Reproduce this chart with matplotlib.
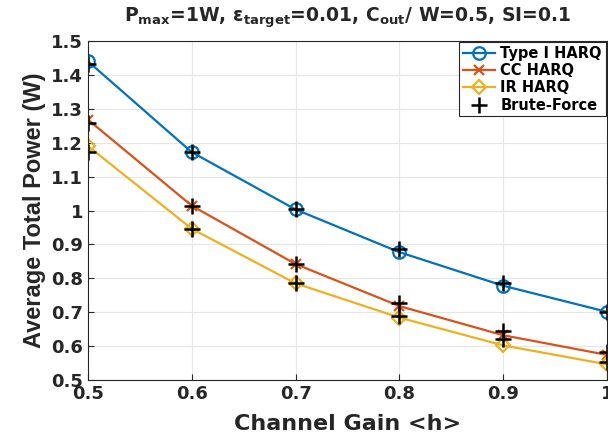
import numpy as np
import matplotlib.pyplot as plt

plt.rcParams['font.family'] = ['DejaVu Sans']
plt.rcParams['font.weight'] = 'bold'
plt.rcParams['mathtext.default'] = 'regular'

h = [0.5, 0.6, 0.7, 0.8, 0.9, 1.0]
type1 = [1.44, 1.172, 1.003, 0.877, 0.778, 0.701]
cc = [1.268, 1.014, 0.842, 0.718, 0.632, 0.574]
ir = [1.19, 0.946, 0.785, 0.684, 0.602, 0.546]
bf_type1 = [1.431, 1.172, 1.003, 0.886, 0.787, 0.701]
bf_cc = [1.259, 1.014, 0.842, 0.727, 0.645, 0.583]
bf_ir = [1.174, 0.946, 0.785, 0.69, 0.621, 0.554]

fig = plt.figure(figsize=(6.08, 4.42), dpi=100)
ax = fig.add_axes([0.1447, 0.1403, 0.8537, 0.7669])

ax.plot(h, type1, '-o', color='#0072BD', lw=1.6, ms=9, mfc='none', mew=1.6, label='Type I HARQ')
ax.plot(h, cc, '-x', color='#D95319', lw=1.6, ms=7, mew=1.6, label='CC HARQ')
ax.plot(h, ir, '-D', color='#EDB120', lw=1.6, ms=7.5, mfc='none', mew=1.6, label='IR HARQ')
ax.plot(h + h + h, bf_type1 + bf_cc + bf_ir, '+', color='k', ms=11, mew=1.8, label='Brute-Force', linestyle='none')

ax.set_xlim(0.5, 1.0)
ax.set_ylim(0.5, 1.5)
ax.set_xticks([0.5, 0.6, 0.7, 0.8, 0.9, 1.0])
ax.set_xticklabels(['0.5', '0.6', '0.7', '0.8', '0.9', '1'])
ax.set_yticks(np.arange(0.5, 1.51, 0.1))
ax.set_yticklabels(['0.5', '0.6', '0.7', '0.8', '0.9', '1', '1.1', '1.2', '1.3', '1.4', '1.5'])
ax.tick_params(labelsize=13, direction='in', length=4, color='#262626', labelcolor='#262626')
ax.grid(True, color='#e6e6e6', lw=0.8)
ax.set_axisbelow(True)
for s in ax.spines.values():
    s.set_color('#262626')
    s.set_linewidth(0.8)

ax.set_xlabel('Channel Gain <h>', fontsize=16, fontweight='bold', color='#262626', labelpad=8)
ax.set_ylabel('Average Total Power (W)', fontsize=17, fontweight='bold', color='#262626',
              family='Liberation Sans', labelpad=4)
ax.set_title(r'P$_{max}$=1W, $\epsilon_{target}$=0.01, C$_{out}$/ W=0.5, SI=0.1',
             fontsize=13.5, fontweight='bold', color='#262626', pad=14)

leg = ax.legend(loc='upper right', fontsize=10.5, fancybox=False, framealpha=1,
                edgecolor='#262626', borderaxespad=0.1, handlelength=2.2,
                labelspacing=0.15, borderpad=0.25, handletextpad=0.4)
leg.get_frame().set_linewidth(0.8)

fig.savefig('out.png', dpi=100)
